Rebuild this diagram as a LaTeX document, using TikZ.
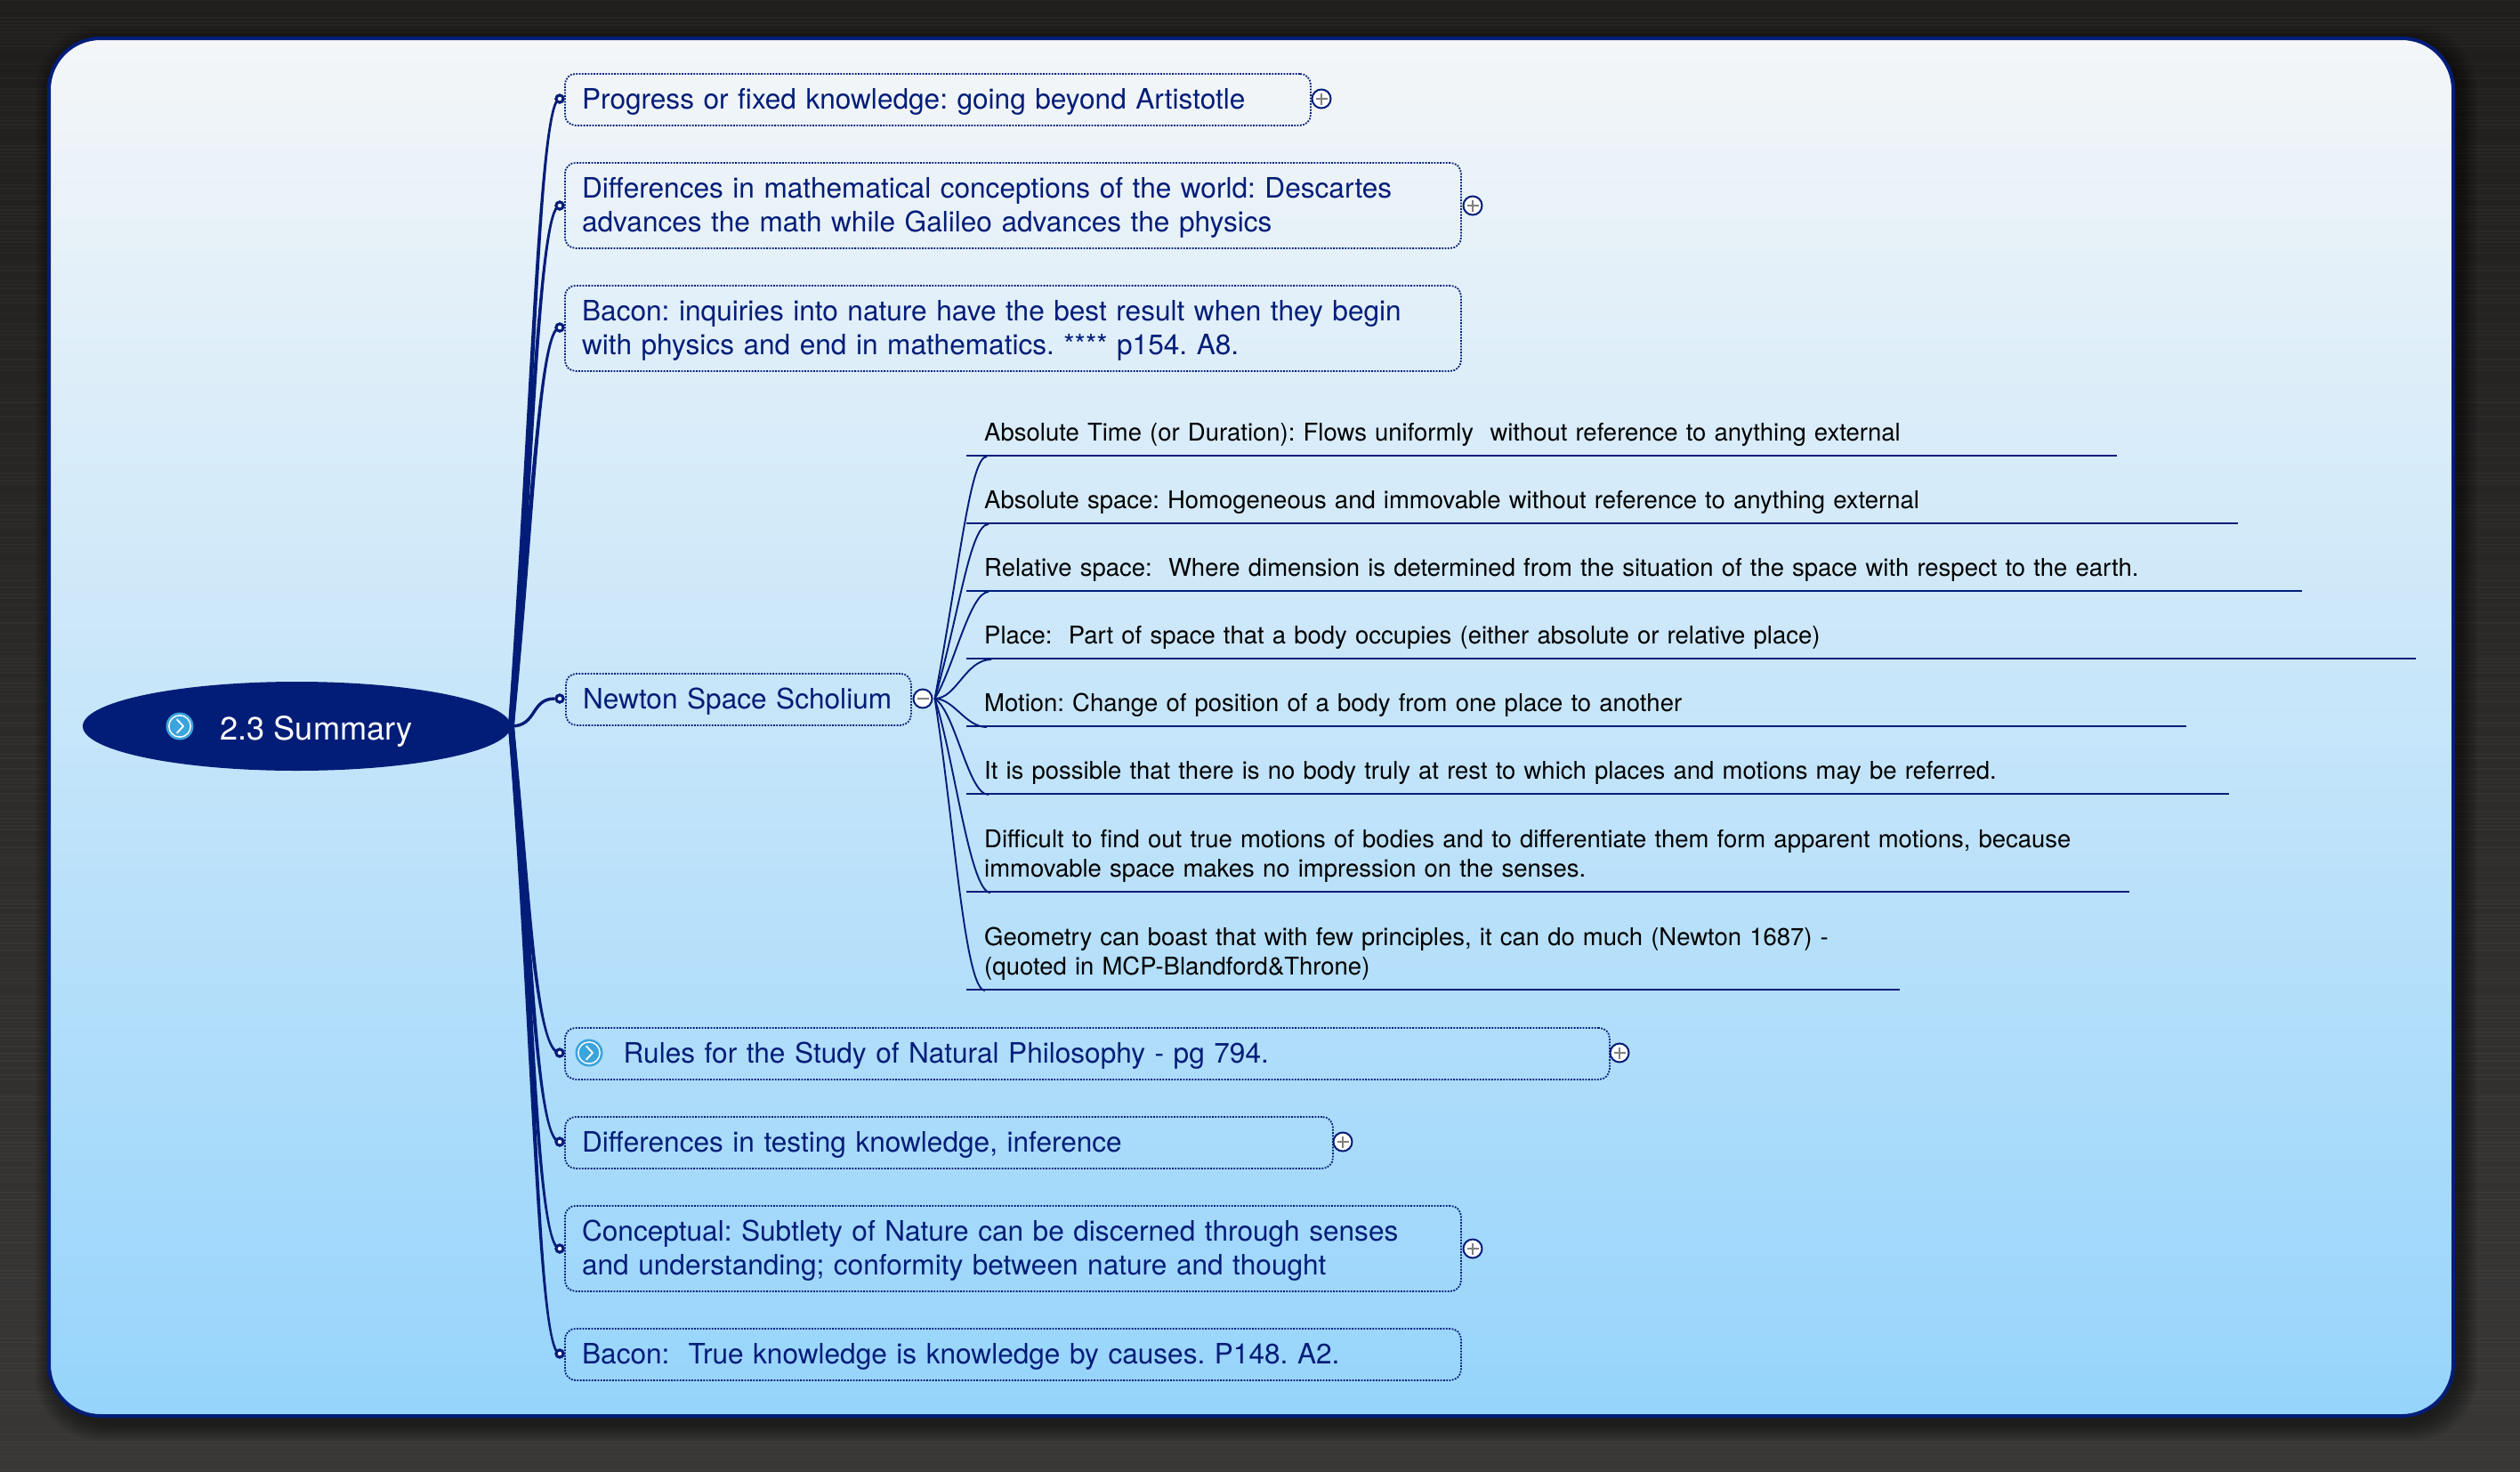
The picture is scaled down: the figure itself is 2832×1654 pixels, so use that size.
\documentclass[tikz,border=0pt]{standalone}
\usepackage{fontspec}
\setmainfont{TeX Gyre Heros}
\usetikzlibrary{shapes.geometric,calc}
\definecolor{navy}{HTML}{021D78}
\definecolor{txtblue}{HTML}{021D78}
\definecolor{bgtop}{HTML}{201E1C}
\definecolor{bgbot}{HTML}{383736}
\definecolor{pantop}{HTML}{F4F6F8}
\definecolor{panbot}{HTML}{96D4FB}
\definecolor{iconblue}{HTML}{3CA4DC}
\tikzset{
  x=0.5pt,y=-0.5pt,
  topicbox/.style={draw=navy,line width=0.9pt,dash pattern=on 0.9pt off 0.75pt,rounded corners=6pt,
    inner xsep=9.6pt,inner ysep=0pt,align=left,text=txtblue,
    font=\fontsize{15.8}{19}\selectfont\frenchspacing},
  kid/.style={inner xsep=9.9pt,inner ysep=0pt,align=left,text=black,anchor=south west,
    font=\fontsize{13.74}{16.8}\selectfont\frenchspacing},
  kidline/.style={draw=navy,line width=1pt},
  kidcurve/.style={draw=navy,line width=0.95pt},
  conn/.style={fill=navy,draw=navy,line width=1.2pt},
  dotnode/.style={circle,draw=navy,fill=white,line width=1.5pt,minimum size=4pt,inner sep=0pt},
  expander/.style={circle,draw=navy,fill=white,line width=1pt,minimum size=10.5pt,inner sep=0pt},
  iconnode/.style={circle,fill=iconblue,minimum size=15.5pt,inner sep=0pt},
  signmark/.style={draw=gray,line width=1pt},
  chev/.style={draw=white,line width=0.9pt,line cap=round,line join=round},
}
\newcommand{\stb}{\rule[-4.3pt]{0pt}{19pt}}
\newcommand{\kbot}{\rule[-8pt]{0pt}{8pt}}
% name, x0, y0, x1, y1, text
\newcommand{\pbox}[6]{%
  \pgfmathsetmacro{\boxh}{(#5-#3)*0.5}%
  \pgfmathsetmacro{\boxt}{(#4-#2)*0.5-19.2}%
  \node[topicbox,minimum height=\boxh pt,text width=\boxt pt,anchor=north west] (#1) at (#2,#3) {#6};}
% tapered branch: target, c1x,c1y,c2x,c2y
\newcommand{\branch}[5]{%
  \filldraw[conn] ([xshift=-1.1pt]root.east) .. controls (#2-1.5,#3) and (#4,#5-0.4) .. ([yshift=0.2pt]#1.center)
   -- ([yshift=-0.2pt]#1.center) .. controls (#4,#5+0.4) and (#2+1.5,#3) .. ([xshift=1.1pt]root.east) -- cycle;}
\newcommand{\chevron}[1]{%
  \draw[white,line width=0.7pt] (#1.center) circle (6.1pt);
  \draw[chev] ($(#1.center)+(-3,-7.5)$) -- ($(#1.center)+(4,0)$) -- ($(#1.center)+(-3,7.5)$);}
\begin{document}
\begin{tikzpicture}
\useasboundingbox (0,0) rectangle (2832,1654);
\shade[top color=bgtop,bottom color=bgbot] (0,0) rectangle (2832,1654);
% brushed streaks of the backdrop
\pgfmathsetseed{7}
\foreach \yy in {0,4,...,1652}{
  \pgfmathsetmacro{\aa}{rnd*0.035}
  \draw[white,opacity=\aa,line width=1pt] (0,\yy) -- (2832,\yy);
}
% soft shadow of the panel
\foreach \ss in {20,18,...,2}{
  \fill[black,opacity=0.055,rounded corners=36pt] (54+6-\ss,42+7-\ss) rectangle (2758+6+\ss,1592+7+\ss);
}
% panel
\draw[draw=navy,line width=2pt,rounded corners=29pt,top color=pantop,bottom color=panbot]
  (55,43) rectangle (2757,1591);

% root
\node[ellipse,fill=navy,minimum width=240.5pt,minimum height=50pt,inner sep=0pt,text=white,
  font=\fontsize{18.1}{22}\selectfont] (root) at (333.5,816)
  {\hspace*{22pt}\rule[-4pt]{0pt}{23pt}2.3 Summary};
\node[iconnode] (rooticon) at (202,816) {};
\chevron{rooticon}

% topics
\pbox{t1}{634}{82}{1472}{140}{\stb Progress or fixed knowledge: going beyond Artistotle}
\pbox{t2}{634}{182}{1641}{278}{\stb Differences in mathematical conceptions of the world: Descartes\\\stb advances the math while Galileo advances the physics}
\pbox{t3}{634}{320}{1641}{416}{\stb Bacon: inquiries into nature have the best result when they begin\\\stb with physics and end in mathematics. **** p154. A8.}
\pbox{t4}{635}{756}{1023}{814}{\stb\mbox{Newton Space Scholium}}
\pbox{t5}{634}{1154}{1808}{1212}{\stb\hspace*{23.3pt}Rules for the Study of Natural Philosophy - pg 794.}
\pbox{t6}{634}{1254}{1497}{1312}{\stb Differences in testing knowledge, inference}
\pbox{t7}{634}{1354}{1641}{1450}{\stb Conceptual: Subtlety of Nature can be discerned through senses\\\stb and understanding; conformity between nature and thought}
\pbox{t8}{634}{1492}{1641}{1550}{\stb Bacon:\ \ True knowledge is knowledge by causes. P148. A2.}
\node[iconnode] (ruleicon) at (662,1183) {};
\chevron{ruleicon}

% attachment dots
\node[dotnode] (d1) at (629,111) {};
\node[dotnode] (d2) at (629,231) {};
\node[dotnode] (d3) at (629,368) {};
\node[dotnode] (d4) at (629,785) {};
\node[dotnode] (d5) at (629,1183) {};
\node[dotnode] (d6) at (629,1283) {};
\node[dotnode] (d7) at (629,1403) {};
\node[dotnode] (d8) at (629,1521) {};

% branches
\branch{d1}{598}{470}{606}{111}
\branch{d2}{598}{520}{606}{231}
\branch{d3}{598}{590}{606}{368}
\draw[navy,line width=1.7pt] (root.east) .. controls (604,816) and (596,785) .. (d4);
\branch{d5}{594}{1000}{602}{1183}
\branch{d6}{597}{1060}{603}{1283}
\branch{d7}{598}{1100}{603}{1403}
\branch{d8}{600}{1150}{604}{1521}
\foreach \d in {d1,d2,d3,d4,d5,d6,d7,d8}{
  \draw[navy,line width=1.5pt,fill=white] (\d.center) circle (2pt);
}

% expanders
\node[expander] (e1) at (1485,111) {};
\node[expander] (e2) at (1655,231) {};
\node[expander] (e4) at (1037,785) {};
\node[expander] (e5) at (1820,1183) {};
\node[expander] (e6) at (1509,1283) {};
\node[expander] (e7) at (1655,1403) {};
\foreach \e in {e1,e2,e5,e6,e7}{
  \draw[signmark] ($(\e.center)+(-6.5,0)$) -- ($(\e.center)+(6.5,0)$);
  \draw[signmark] ($(\e.center)+(0,-6.5)$) -- ($(\e.center)+(0,6.5)$);
}
\draw[signmark] ($(e4.center)+(-6.5,0)$) -- ($(e4.center)+(6.5,0)$);

% children of the Newton node
\node[kid,text width=626.2pt] (k1) at (1086,512) {Absolute Time (or Duration): Flows uniformly\ \ without reference to anything external\kbot};
\node[kid,text width=694.2pt] (k2) at (1086,588) {Absolute space: Homogeneous and immovable without reference to anything external\kbot};
\node[kid,text width=730.2pt] (k3) at (1086,664) {Relative space:\ \ Where dimension is determined from the situation of the space with respect to the earth.\kbot};
\node[kid,text width=794.2pt] (k4) at (1086,740) {Place:\ \ Part of space that a body occupies (either absolute or relative place)\kbot};
\node[kid,text width=665.2pt] (k5) at (1086,816) {Motion: Change of position of a body from one place to another\kbot};
\node[kid,text width=689.2pt] (k6) at (1086,892) {It is possible that there is no body truly at rest to which places and motions may be referred.\kbot};
\node[kid,text width=633.2pt] (k7) at (1086,1002) {Difficult to find out true motions of bodies and to differentiate them form apparent motions, because\\immovable space makes no impression on the senses.\kbot};
\node[kid,text width=504.2pt] (k8) at (1086,1112) {Geometry can boast that with few principles, it can do much (Newton 1687) -\\(quoted in MCP-Blandford\&Throne)\kbot};
\foreach \k in {k1,k2,k3,k4,k5,k6,k7,k8}{
  \draw[kidline] (\k.south west) -- (\k.south east);
}
\coordinate (fan) at ($(e4.east)+(2,0)$);
\draw[kidcurve] (fan) .. controls (1078,640) and (1090,513) .. ($(k1.south west)+(23,1)$);
\draw[kidcurve] (fan) .. controls (1078,690) and (1090,589) .. ($(k2.south west)+(25,1)$);
\draw[kidcurve] (fan) .. controls (1072,750) and (1090,665) .. ($(k3.south west)+(25,1)$);
\draw[kidcurve] (fan) .. controls (1075,785) and (1085,741) .. ($(k4.south west)+(28,1)$);
\draw[kidcurve] (fan) .. controls (1072,785) and (1085,817) .. ($(k5.south west)+(23,1)$);
\draw[kidcurve] (fan) .. controls (1074,800) and (1088,893) .. ($(k6.south west)+(25,1)$);
\draw[kidcurve] (fan) .. controls (1072,850) and (1090,1003) .. ($(k7.south west)+(27,1)$);
\draw[kidcurve] (fan) .. controls (1072,920) and (1084,1113) .. ($(k8.south west)+(21,1)$);
\end{tikzpicture}
\end{document}
